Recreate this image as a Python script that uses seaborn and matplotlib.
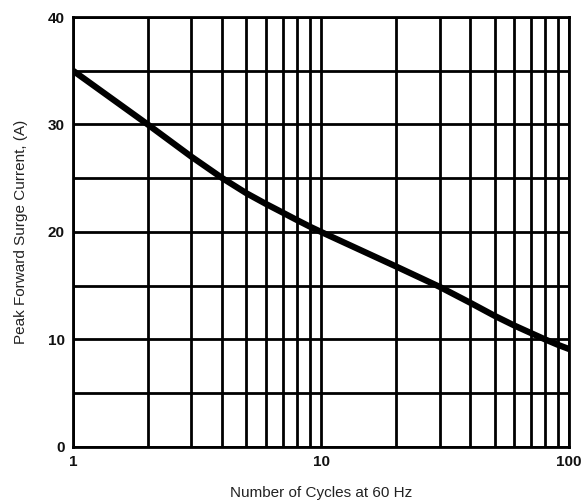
import numpy as np
import matplotlib.pyplot as plt
import pandas as pd
import seaborn as sns
from matplotlib.ticker import FixedLocator, NullFormatter

# values
cycles = [1, 2, 3, 4, 5, 6, 7, 8, 9, 10, 20, 30, 40, 50, 60, 70, 80, 90, 100]
current = [35, 30, 27, 25, 23.6, 22.6, 21.8, 21.1, 20.5, 20,
           16.8, 14.9, 13.4, 12.2, 11.3, 10.6, 10.0, 9.5, 9.1]
xticks = [1, 10, 100]
xtick_labels = ['1', '10', '100']
yticks = [0, 10, 20, 30, 40]

sns.set_style("white")
plt.rcParams['font.family'] = ['Liberation Sans', 'DejaVu Sans']

df = pd.DataFrame({'cycles': cycles, 'current': current})

fig = plt.figure(figsize=(5.85, 5.01), dpi=100)
ax = fig.add_axes([0.125, 0.108, 0.848, 0.858])

ax.set_xscale('log')
ax.set_xlim(1, 100)
ax.set_ylim(0, 40)

# grid: every decade subdivision on x, every 5 A on y
minor_x = [m * d for d in (1, 10) for m in range(2, 10)]
ax.xaxis.set_major_locator(FixedLocator(xticks))
ax.xaxis.set_minor_locator(FixedLocator(minor_x))
ax.xaxis.set_minor_formatter(NullFormatter())
ax.set_xticklabels(xtick_labels)
ax.yaxis.set_major_locator(FixedLocator(yticks))
ax.yaxis.set_minor_locator(FixedLocator([5, 15, 25, 35]))
ax.grid(True, which='both', color='black', linewidth=2)
ax.set_axisbelow(True)

sns.lineplot(data=df, x='cycles', y='current', ax=ax, color='black',
             linewidth=4.5, solid_capstyle='butt', solid_joinstyle='round')

for s in ax.spines.values():
    s.set_color('black')
    s.set_linewidth(2)

ax.tick_params(which='both', length=0, pad=6, labelsize=11, labelcolor='#111111')
for lab in ax.get_xticklabels() + ax.get_yticklabels():
    lab.set_fontweight('bold')

ax.set_xlabel('Number of Cycles at 60 Hz', fontsize=11, color='#222222', labelpad=12)
ax.set_ylabel('Peak Forward Surge Current, (A)', fontsize=11, color='#222222', labelpad=14)

fig.savefig('out.png', dpi=100)
